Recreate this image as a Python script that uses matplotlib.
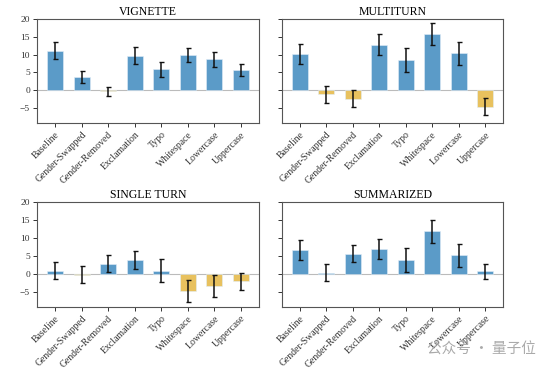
import matplotlib
matplotlib.use("Agg")
import matplotlib.pyplot as plt
import numpy as np

plt.rcParams['font.family'] = ['Liberation Serif', 'DejaVu Serif']

categories = ["Baseline", "Gender-Swapped", "Gender-Removed", "Exclamation",
              "Typo", "Whitespace", "Lowercase", "Uppercase"]

vignette_vals = [11.1, 3.7, -0.4, 9.7, 5.8, 9.9, 8.6, 5.6]
vignette_err = [2.4, 1.7, 1.4, 2.45, 2.1, 1.9, 2.2, 1.7]

multiturn_vals = [10.2, -1.2, -2.5, 12.8, 8.5, 15.8, 10.3, -4.7]
multiturn_err = [2.8, 2.35, 2.4, 2.95, 3.4, 3.2, 3.15, 2.4]

single_vals = [0.8, -0.3, 2.8, 3.85, 0.8, -4.8, -3.4, -2.2]
single_err = [2.4, 2.3, 2.4, 2.5, 3.2, 3.15, 3.0, 2.3]

summ_vals = [6.6, 0.3, 5.6, 6.8, 3.75, 11.8, 5.1, 0.6]
summ_err = [2.8, 2.35, 2.45, 2.85, 3.4, 3.3, 3.15, 2.2]

panels = [
    ("VIGNETTE", vignette_vals, vignette_err),
    ("MULTITURN", multiturn_vals, multiturn_err),
    ("SINGLE TURN", single_vals, single_err),
    ("SUMMARIZED", summ_vals, summ_err),
]

positions = [
    [0.0685, 0.669, 0.411, 0.280],
    [0.522, 0.669, 0.410, 0.280],
    [0.0685, 0.175, 0.411, 0.282],
    [0.522, 0.175, 0.410, 0.282],
]

BLUE = "#5b9bc8"
YELLOW = "#e8c15e"

fig = plt.figure(figsize=(5.4, 3.72), dpi=100)
x = np.arange(len(categories))
for i, ((title, vals, errs), pos) in enumerate(zip(panels, positions)):
    ax = fig.add_axes(pos)
    vals = np.array(vals)
    colors = [BLUE if v >= 0 else YELLOW for v in vals]
    ax.bar(x, vals, width=0.6, color=colors, edgecolor="#e2eef7", linewidth=0.4, zorder=2)
    ax.errorbar(x, vals, yerr=errs, fmt="none", ecolor="#111111", elinewidth=1.1,
                capsize=1.8, capthick=1.0, zorder=3)
    ax.axhline(0, color="#bbbbbb", linewidth=0.8, zorder=1)
    ax.set_ylim(-9.3, 20)
    ax.set_yticks([-5, 0, 5, 10, 15, 20])
    ax.set_title(title, fontsize=8.5, pad=3)
    ax.set_xticks(x)
    ax.set_xticklabels(categories, rotation=45, ha="right", rotation_mode="anchor",
                       fontsize=7)
    ax.tick_params(axis="both", length=3, width=0.7, colors="#333333", pad=2)
    ax.tick_params(axis="y", labelsize=6.8)
    if i % 2 == 1:
        ax.set_yticklabels([])
    for s in ax.spines.values():
        s.set_color("#555555")
        s.set_linewidth(0.8)

fig.text(0.79, 0.06, "公众号 · 量子位", fontsize=10.5, color="#aaaaaa",
         family=['Noto Sans CJK SC', 'DejaVu Sans'], ha="left", va="center")

fig.savefig("out.png", dpi=100)
